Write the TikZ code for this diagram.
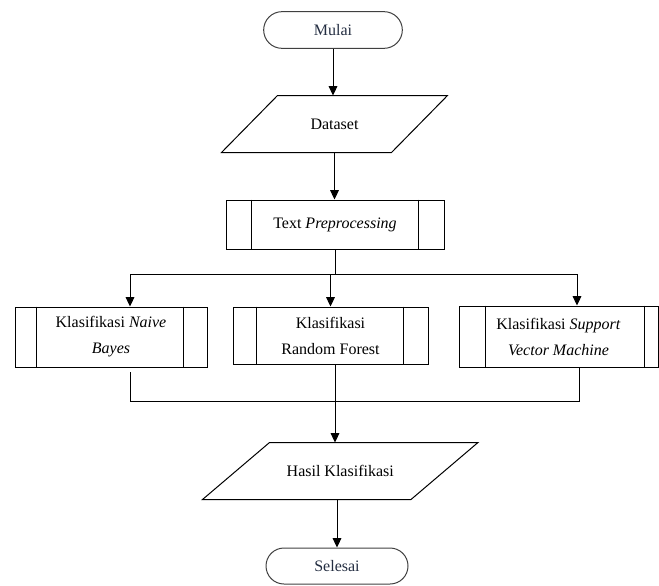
\documentclass[tikz,border=0pt]{standalone}
\usepackage{fontspec}
\setmainfont{Liberation Serif}
\usetikzlibrary{shapes.misc,arrows.meta,calc}
\definecolor{termtext}{RGB}{35,45,65}

\begin{document}
\begin{tikzpicture}[x=0.75pt,y=-0.75pt,line width=0.75pt,
	every node/.style={font=\fontsize{12}{19.5}\selectfont,inner sep=0pt,align=center},
	terminal/.style={draw=black!75,rounded rectangle,text=termtext,minimum width=104pt,minimum height=27.5pt},
	iobox/.style={rectangle,minimum height=42pt},
	procbox/.style={draw,rectangle},
	arr/.style={-{Triangle[width=6.5pt,length=7pt]}}]
	\useasboundingbox (0,0) rectangle (659,585);

	% nodes
	\node[terminal] (mulai) at (333,30) {Mulai};
	\node[iobox,minimum width=126.75pt] (dataset) at (334.5,124) {Dataset};
	\node[procbox,minimum width=163.5pt,minimum height=36.75pt] (tp) at (335,224.5) {Text \textit{Preprocessing}};
	\node[procbox,minimum width=144pt,minimum height=45pt] (nb) at (111,337) {Klasifikasi \textit{Naive}\\\textit{Bayes}};
	\node[procbox,minimum width=146.25pt,minimum height=42.75pt] (rf) at (330.5,335.5) {Klasifikasi\\Random Forest};
	\node[procbox,minimum width=149.25pt,minimum height=45.75pt] (svm) at (558.5,336.5) {Klasifikasi \textit{Support}\\\textit{Vector Machine}};
	\node[iobox,minimum width=155.6pt] (hasil) at (340.25,471) {Hasil Klasifikasi};
	\node[terminal,minimum width=106.5pt,minimum height=27pt] (selesai) at (337,566) {Selesai};

	% slanted outline of the data boxes
	\foreach \n/\s in {dataset/28,hasil/33.5}{
		\draw ($(\n.north west)+(\s,0)$) -- ($(\n.north east)+(\s,0)$)
			-- ($(\n.south east)-(\s,0)$) -- ($(\n.south west)-(\s,0)$) -- cycle;
	}

	% side bars of the process boxes
	\foreach \n/\l/\r in {tp/26/26,nb/22/24,rf/24/25,svm/27/14}{
		\draw ($(\n.north west)+(\l,0)$) -- ($(\n.south west)+(\l,0)$);
		\draw ($(\n.north east)-(\r,0)$) -- ($(\n.south east)-(\r,0)$);
	}

	% branch points
	\coordinate (splitL) at (130,274);
	\coordinate (splitR) at (577,274);
	\coordinate (joinL) at (130,401);
	\coordinate (joinR) at (579,401);
	\coordinate (rfdown) at (335,401);

	% connectors
	\draw[arr] (mulai.south) -- (mulai.south |- dataset.north);
	\draw[arr] (dataset.south) -- (dataset.south |- tp.north);
	\draw (tp.south) -- (tp.south |- splitL);
	\draw (splitL) -- (splitR);
	\draw[arr] (splitL) -- (splitL |- nb.north);
	\draw[arr] (rf.north |- splitL) -- (rf.north);
	\draw[arr] (splitR) -- (splitR |- svm.north);
	\draw[shorten <=3.5pt] (joinL |- nb.south) -- (joinL) -- (joinR) -- (joinR |- svm.south);
	\draw[arr] (rfdown |- rf.south) -- (rfdown |- hasil.north);
	\draw[arr] (selesai.north |- hasil.south) -- (selesai.north);
\end{tikzpicture}
\end{document}
